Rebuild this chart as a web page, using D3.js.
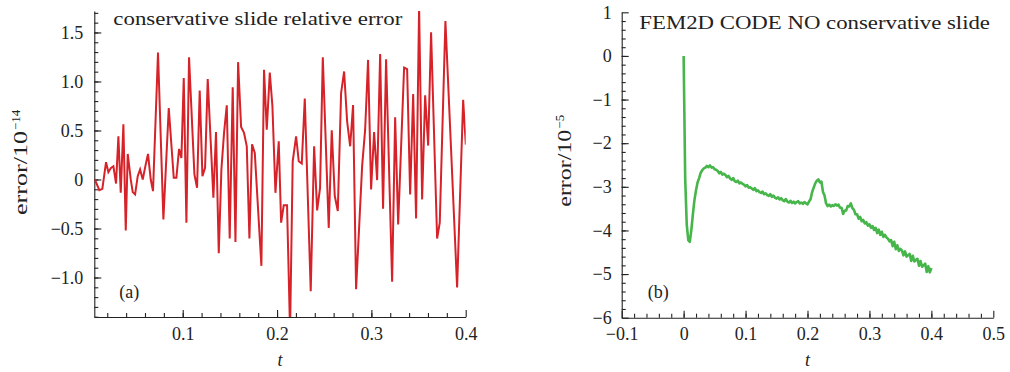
<!DOCTYPE html>
<html>
<head>
<meta charset="utf-8">
<script src="https://cdn.jsdelivr.net/npm/d3@7"></script>
<style>
body { margin: 0; background: #fff; }
text { font-family: "Liberation Serif", serif; fill: #222; font-size: 18px; }
</style>
</head>
<body>
<div id="chart"></div>
<script>
/* (a) conservative slide relative error, units of 1e-14 */
var slideT = [0.0068,0.0116,0.0148,0.0187,0.0212,0.0240,0.0265,0.0293,0.0318,0.0343,
  0.0371,0.0396,0.0417,0.0449,0.0470,0.0495,0.0523,0.0548,0.0576,0.0604,
  0.0632,0.0661,0.0685,0.0738,0.0795,0.0852,0.0905,0.0933,0.0961,0.0986,
  0.1011,0.1039,0.1067,0.1124,0.1152,0.1180,0.1209,0.1237,0.1265,0.1325,
  0.1353,0.1382,0.1410,0.1438,0.1467,0.1498,0.1530,0.1559,0.1587,0.1619,
  0.1650,0.1679,0.1707,0.1735,0.1764,0.1834,0.1862,0.1891,0.1923,0.1951,
  0.1983,0.2018,0.2043,0.2071,0.2106,0.2138,0.2166,0.2202,0.2230,0.2262,
  0.2294,0.2357,0.2393,0.2425,0.2456,0.2485,0.2548,0.2580,0.2612,0.2644,
  0.2679,0.2711,0.2743,0.2775,0.2806,0.2838,0.2902,0.2934,0.2965,0.2997,
  0.3029,0.3061,0.3093,0.3124,0.3156,0.3220,0.3252,0.3284,0.3347,0.3379,
  0.3411,0.3443,0.3474,0.3506,0.3538,0.3570,0.3602,0.3633,0.3697,0.3725,
  0.3785,0.3845,0.3909,0.3973,0.4001];
var slideErr = [0.00,-0.108,-0.095,0.176,0.075,0.119,0.136,-0.041,0.441,-0.136,
  0.563,-0.519,0.261,0.0,-0.129,-0.153,0.034,0.102,0.0,0.136,
  0.261,0.0,-0.119,1.295,-0.407,0.729,0.017,0.017,0.312,0.220,
  1.034,-0.441,1.247,0.051,-0.085,0.908,0.034,0.119,1.024,-0.186,
  0.485,-0.753,0.102,0.475,0.756,-0.603,0.942,-0.637,1.197,0.536,
  0.475,0.339,-0.603,0.359,0.271,-0.881,1.119,0.508,1.092,0.746,
  -0.136,0.390,-0.441,-0.264,-0.264,-1.55,0.186,0.441,0.186,0.163,
  0.827,-1.139,0.339,-0.315,-0.085,1.247,-0.495,0.502,-0.169,-0.322,
  0.881,1.102,0.593,0.339,0.759,-1.119,0.136,0.508,1.220,-0.102,
  0.485,-0.007,1.281,-0.298,1.227,-1.044,0.634,-0.458,1.142,1.125,
  -0.153,0.871,-0.397,1.76,-0.203,0.858,0.346,1.502,-0.603,-0.441,
  1.617,0.305,-1.102,0.814,0.356];

/* (b) FEM2D code, units of 1e-5, sampled every fem2dStep in t from 0 */
var fem2dStep = 0.0025;
var fem2dErr = [0,-2.80,-3.86,-4.22,-4.26,-3.98,-3.62,-3.30,-3.08,-2.90,
  -2.80,-2.68,-2.62,-2.58,-2.56,-2.52,-2.55,-2.51,-2.56,-2.55,
  -2.60,-2.61,-2.64,-2.69,-2.66,-2.72,-2.70,-2.73,-2.78,-2.75,
  -2.81,-2.84,-2.80,-2.87,-2.89,-2.86,-2.92,-2.90,-2.93,-2.95,
  -2.99,-2.96,-3.02,-3.01,-3.04,-3.07,-3.03,-3.10,-3.08,-3.12,
  -3.14,-3.11,-3.17,-3.15,-3.19,-3.21,-3.17,-3.23,-3.20,-3.25,
  -3.27,-3.24,-3.29,-3.26,-3.31,-3.33,-3.28,-3.34,-3.36,-3.32,
  -3.37,-3.34,-3.38,-3.35,-3.33,-3.38,-3.36,-3.39,-3.35,-3.38,
  -3.40,-3.34,-3.28,-3.12,-3.02,-2.92,-2.86,-2.83,-2.90,-2.88,
  -3.12,-3.20,-3.38,-3.44,-3.41,-3.45,-3.42,-3.44,-3.40,-3.43,
  -3.41,-3.48,-3.48,-3.62,-3.55,-3.54,-3.44,-3.45,-3.38,-3.49,
  -3.53,-3.63,-3.63,-3.73,-3.69,-3.79,-3.76,-3.84,-3.81,-3.89,
  -3.86,-3.94,-3.90,-3.99,-3.94,-4.06,-3.98,-4.10,-4.03,-4.15,
  -4.10,-4.16,-4.19,-4.25,-4.22,-4.36,-4.26,-4.43,-4.34,-4.47,
  -4.42,-4.46,-4.57,-4.48,-4.60,-4.57,-4.54,-4.70,-4.58,-4.71,
  -4.68,-4.65,-4.81,-4.70,-4.83,-4.80,-4.76,-4.95,-4.82,-4.96,
  -4.86];

/* tick values */
var aTicksX = [0.1, 0.2, 0.3, 0.4];
var aTicksY = [-1.0, -0.5, 0, 0.5, 1.0, 1.5];
var bTicksX = [-0.1, 0, 0.1, 0.2, 0.3, 0.4, 0.5];
var bTicksY = [-6, -5, -4, -3, -2, -1, 0, 1];

var width = 1010, height = 372;

var svg = d3.select("#chart")
	.append("svg")
	.attr("width", width)
	.attr("height", height);

function fmt1(d) { return d === 0 ? "0" : d3.format(".1f")(d); }
function fmt0(d) { return d3.format("d")(d); }

function drawPanel(p) {
	var x = d3.scaleLinear().domain(p.xDomain).range(p.xRange);
	var y = d3.scaleLinear().domain(p.yDomain).range(p.yRange);
	var g = svg.append("g").style("color", "#222");

	var clipId = "clip" + p.name;
	svg.append("clipPath").attr("id", clipId)
		.append("rect")
		.attr("x", p.xRange[0]).attr("y", p.yRange[1])
		.attr("width", p.xRange[1] - p.xRange[0])
		.attr("height", p.yRange[0] - p.yRange[1]);

	// minor ticks, pointing inwards
	g.append("g")
		.attr("transform", "translate(0," + p.yRange[0] + ")")
		.call(d3.axisBottom(x).tickValues(p.xMinor).tickSize(-4).tickSizeOuter(0).tickFormat(""))
		.call(function(s) { s.select(".domain").remove(); });
	g.append("g")
		.attr("transform", "translate(" + p.xRange[0] + ",0)")
		.call(d3.axisLeft(y).tickValues(p.yMinor).tickSize(-4).tickSizeOuter(0).tickFormat(""))
		.call(function(s) { s.select(".domain").remove(); });

	// major ticks + labels
	g.append("g")
		.attr("transform", "translate(0," + p.yRange[0] + ")")
		.call(d3.axisBottom(x).tickValues(p.xTicks).tickSize(-7).tickSizeOuter(0)
			.tickPadding(10).tickFormat(p.xFmt));
	g.append("g")
		.attr("transform", "translate(" + p.xRange[0] + ",0)")
		.call(d3.axisLeft(y).tickValues(p.yTicks).tickSize(-7).tickSizeOuter(0)
			.tickPadding(p.yPad).tickFormat(p.yFmt));

	g.selectAll(".tick text").attr("font-size", null).attr("font-family", null);
	g.selectAll("g").attr("font-size", null).attr("font-family", null);
	g.selectAll(".domain, .tick line").attr("stroke-width", 1.1);

	var line = d3.line()
		.x(function(d) { return x(d[0]); })
		.y(function(d) { return y(d[1]); });

	svg.append("path")
		.datum(p.data)
		.attr("clip-path", "url(#" + clipId + ")")
		.attr("fill", "none")
		.attr("stroke", p.color)
		.attr("stroke-width", p.lineWidth)
		.attr("stroke-linejoin", p.join)
		.attr("d", line);

	// title inside the frame
	svg.append("text")
		.attr("x", p.titleX).attr("y", p.titleY)
		.attr("textLength", p.titleLen)
		.attr("lengthAdjust", "spacingAndGlyphs")
		.text(p.title);

	svg.append("text")
		.attr("x", p.tagX).attr("y", 298)
		.text(p.tag);

	// x label
	svg.append("text")
		.attr("x", (p.xRange[0] + p.xRange[1]) / 2)
		.attr("y", 366)
		.attr("text-anchor", "middle")
		.style("font-style", "italic")
		.text("t");

	// y label: error/10^exp
	svg.append("text")
		.attr("transform", "translate(" + p.ylabX + "," + p.ylabY0 + ") rotate(-90)")
		.attr("textLength", p.ylabLen)
		.attr("lengthAdjust", "spacingAndGlyphs")
		.text("error/10");
	svg.append("text")
		.attr("transform", "translate(" + (p.ylabX - 7) + "," + (p.ylabY0 - p.ylabLen - 1) + ") rotate(-90)")
		.style("font-size", "13px")
		.text(p.exp);
}

drawPanel({
	name: "a",
	xDomain: [0.00626, 0.4], xRange: [94.3, 465.7],
	yDomain: [-1.403, 1.719], yRange: [317, 11],
	xTicks: aTicksX, yTicks: aTicksY,
	xMinor: d3.range(0.02, 0.39, 0.02), yMinor: d3.range(-1.4, 1.75, 0.1),
	xFmt: fmt1, yFmt: fmt1, yPad: 11,
	data: slideT.map(function(t, i) { return [t, slideErr[i]]; }),
	color: "#d62229", lineWidth: 2, join: "miter",
	title: "conservative slide relative error", titleX: 113.3, titleY: 25, titleLen: 289,
	tag: "(a)", tagX: 119.3,
	ylabX: 27, ylabY0: 215, ylabLen: 84, exp: "\u221214"
});

drawPanel({
	name: "b",
	xDomain: [-0.1, 0.5], xRange: [621.7, 993.3],
	yDomain: [-6, 1], yRange: [317.7, 12.3],
	xTicks: bTicksX, yTicks: bTicksY,
	xMinor: d3.range(-0.08, 0.49, 0.02), yMinor: d3.range(-5.8, 1, 0.2),
	xFmt: fmt1, yFmt: fmt0, yPad: 10,
	data: fem2dErr.map(function(v, i) { return [i * fem2dStep, v]; }),
	color: "#46b64a", lineWidth: 2.6, join: "round",
	title: "FEM2D CODE NO conservative slide", titleX: 639.3, titleY: 29.3, titleLen: 350.7,
	tag: "(b)", tagX: 647.7,
	ylabX: 570.5, ylabY0: 206.7, ylabLen: 77, exp: "\u22125"
});
</script>
</body>
</html>
